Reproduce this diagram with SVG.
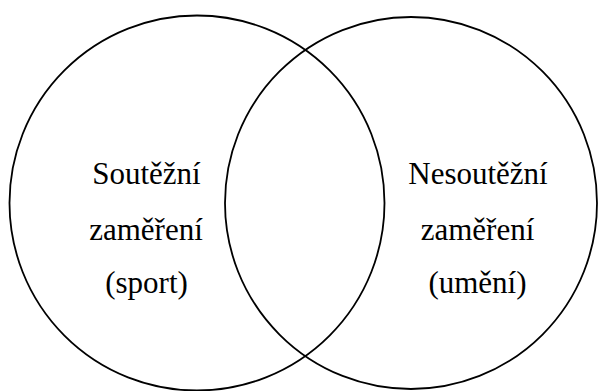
<svg xmlns="http://www.w3.org/2000/svg" width="598" height="391" viewBox="0 0 598 391">
<style>
.c{fill:none;stroke:#000;stroke-width:1.8}
.t{font-family:"Liberation Serif","Times New Roman",serif;font-size:31px;fill:#000;text-anchor:middle}
</style>
<rect width="598" height="391" fill="#fff"/>
<g id="left">
<circle class="c" cx="197" cy="203" r="187.5"/>
<text class="t" x="146.5" y="184">Soutěžní</text>
<text class="t" x="146" y="240">zaměření</text>
<text class="t" x="146.5" y="293">(sport)</text>
</g>
<g id="right">
<circle class="c" cx="411" cy="203" r="186"/>
<text class="t" x="478" y="184">Nesoutěžní</text>
<text class="t" x="477.5" y="240">zaměření</text>
<text class="t" x="477.5" y="293">(umění)</text>
</g>
<g id="connectors"/>
</svg>
